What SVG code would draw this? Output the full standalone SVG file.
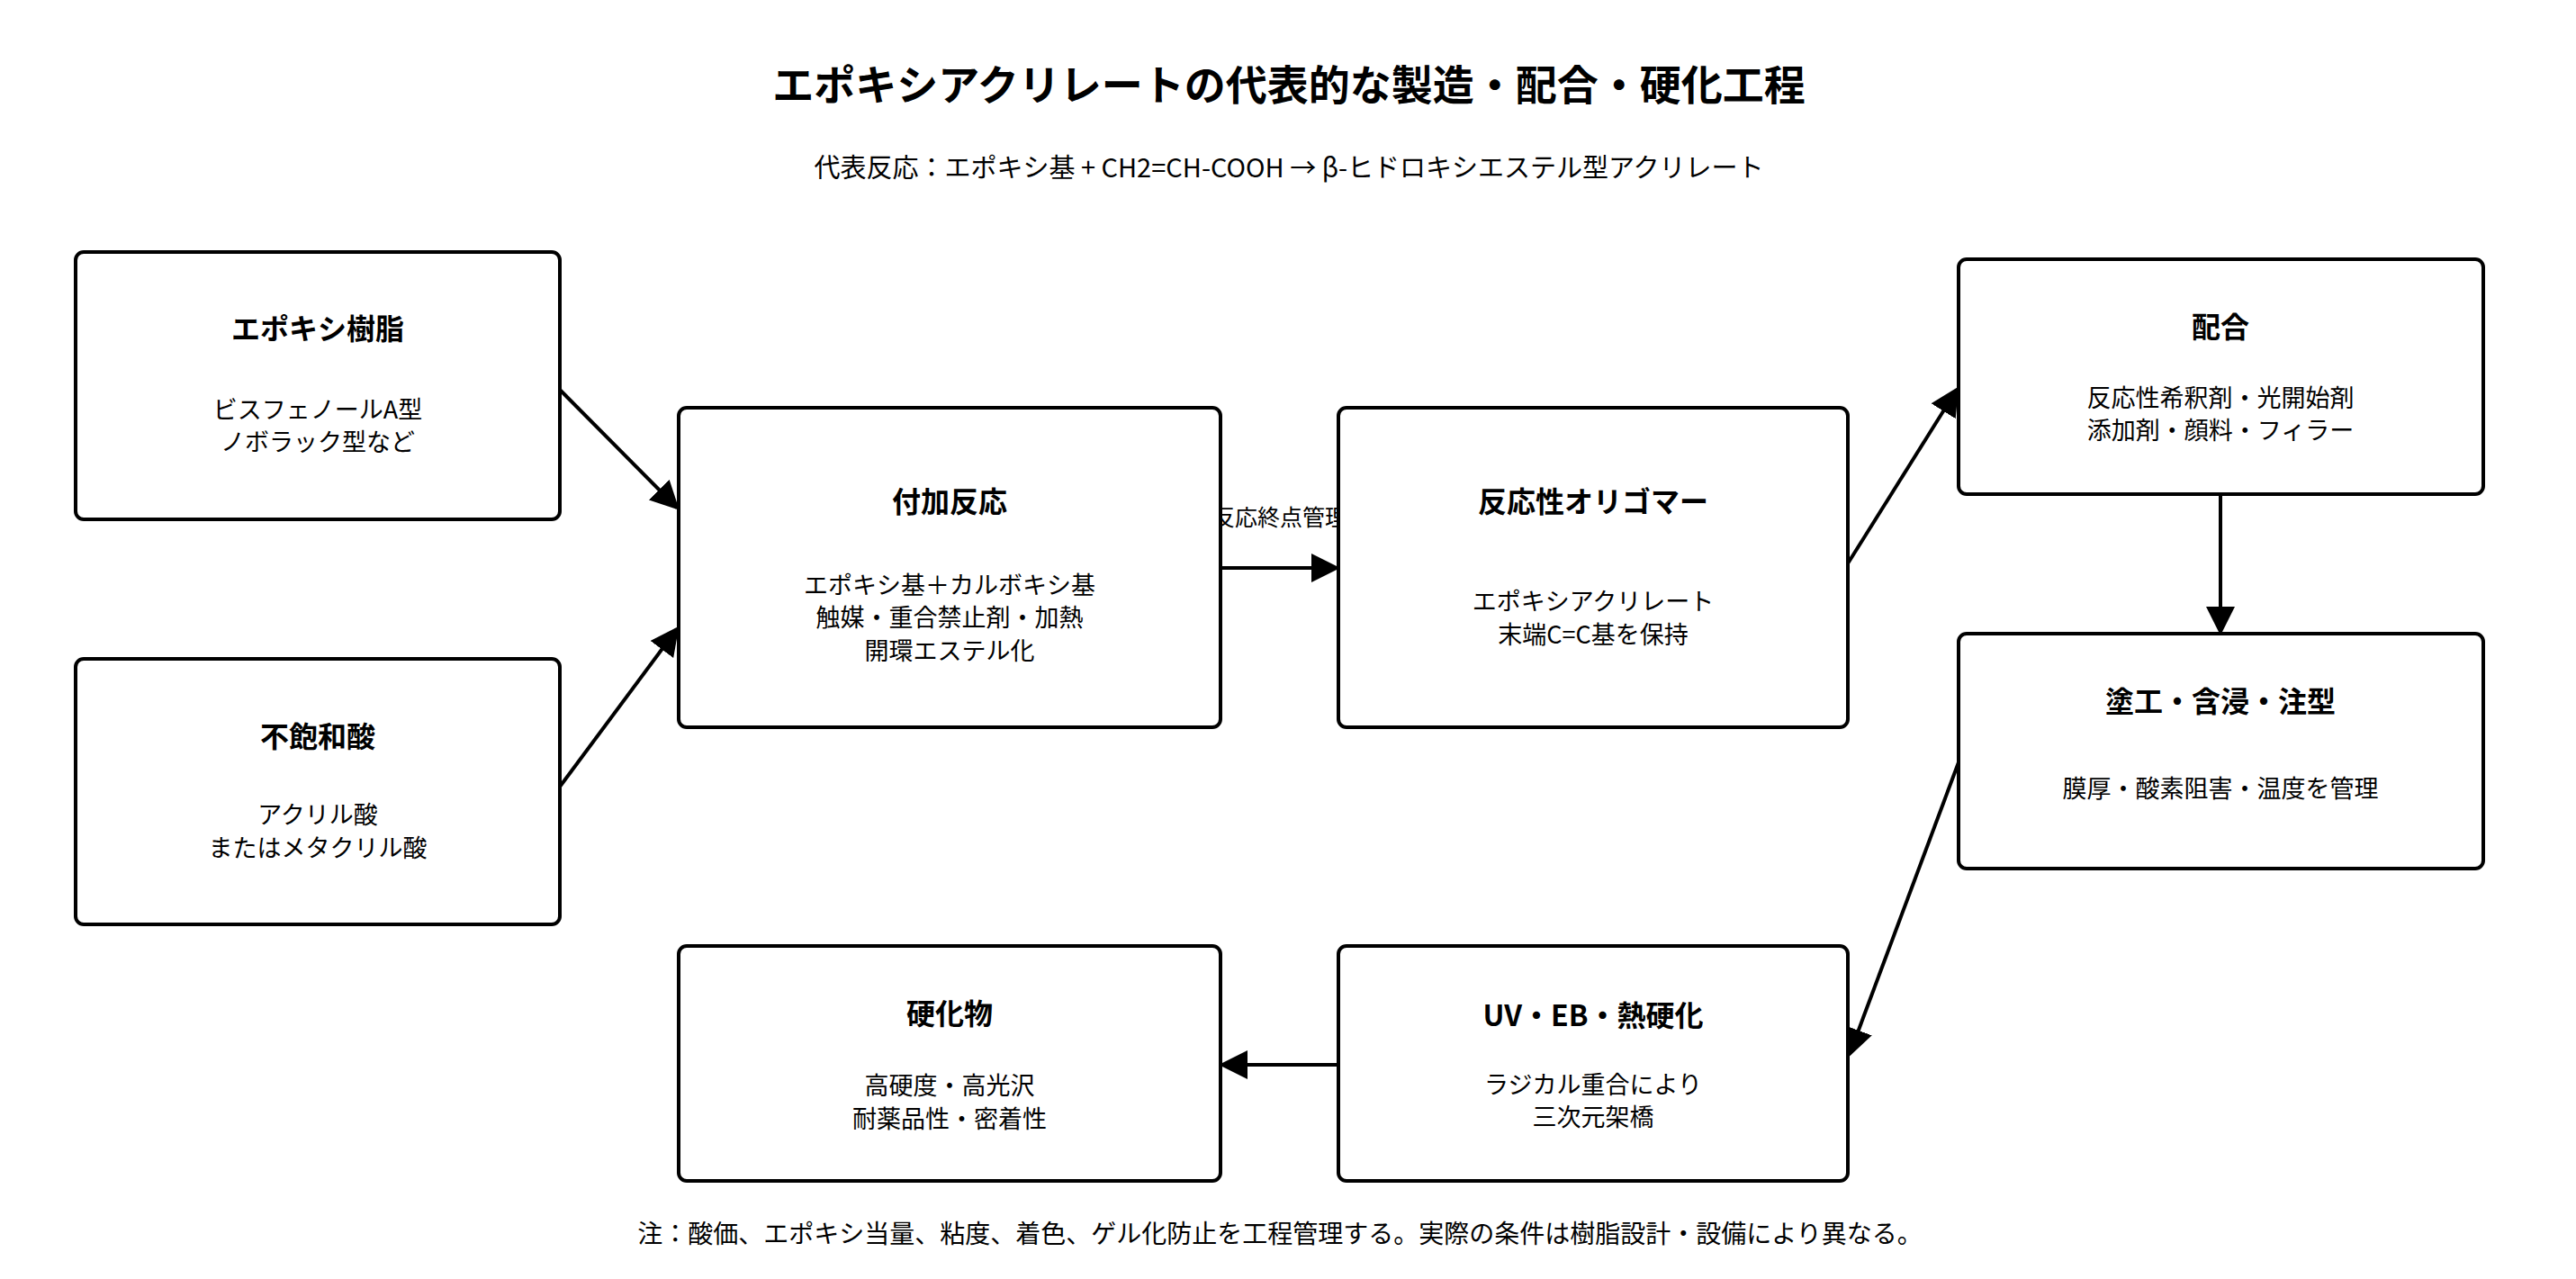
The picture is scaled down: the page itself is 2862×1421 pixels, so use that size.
<svg xmlns="http://www.w3.org/2000/svg" width="2862" height="1421" viewBox="0 0 2862 1421">
<style>
text{font-family:"Noto Sans CJK JP","Noto Sans",sans-serif;fill:#000;text-anchor:middle;dominant-baseline:central}
.box{fill:#fff;stroke:#000;stroke-width:4}
.t{font-size:32px;font-weight:bold}
.b{font-size:27px}
.c{stroke:#000;stroke-width:4;fill:none;marker-end:url(#ah)}
</style>
<defs><marker id="ah" markerWidth="8" markerHeight="8" refX="7" refY="4" orient="auto" markerUnits="strokeWidth"><path d="M0,0 L8,4 L0,8 Z" fill="#000"/></marker></defs>
<rect width="2862" height="1421" fill="#fff"/>
<text x="1432" y="91" style="font-size:46px;font-weight:bold">エポキシアクリレートの代表的な製造・配合・硬化工程</text>
<text x="1432" y="184" style="font-size:29px">代表反応：エポキシ基 + CH2=CH-COOH → β-ヒドロキシエステル型アクリレート</text>
<g id="connectors">
<line class="c" x1="622" y1="433" x2="752" y2="564"/>
<line class="c" x1="622" y1="874" x2="752" y2="699"/>
<line class="c" x1="1356" y1="631" x2="1485" y2="631"/>
<line class="c" x1="2053" y1="626" x2="2174" y2="433"/>
<line class="c" x1="2467" y1="549" x2="2467" y2="702"/>
<line class="c" x1="2179" y1="839" x2="2055" y2="1171"/>
<line class="c" x1="1487" y1="1183" x2="1358" y2="1183"/>
<text x="1422" y="573" style="font-size:25px">反応終点管理</text>
</g>
<g id="n1"><rect class="box" x="84" y="280" width="538" height="297" rx="9"/><text class="t" x="353" y="363">エポキシ樹脂</text><text class="b" x="353" y="453">ビスフェノールA型</text><text class="b" x="353" y="489">ノボラック型など</text></g>
<g id="n2"><rect class="box" x="84" y="732" width="538" height="295" rx="9"/><text class="t" x="353" y="816">不飽和酸</text><text class="b" x="353" y="903">アクリル酸</text><text class="b" x="353" y="940">またはメタクリル酸</text></g>
<g id="n3"><rect class="box" x="754" y="453" width="602" height="355" rx="9"/><text class="t" x="1055" y="555">付加反応</text><text class="b" x="1055" y="648">エポキシ基＋カルボキシ基</text><text class="b" x="1055" y="684">触媒・重合禁止剤・加熱</text><text class="b" x="1055" y="721">開環エステル化</text></g>
<g id="n4"><rect class="box" x="1487" y="453" width="566" height="355" rx="9"/><text class="t" x="1770" y="555">反応性オリゴマー</text><text class="b" x="1770" y="666">エポキシアクリレート</text><text class="b" x="1770" y="703">末端C=C基を保持</text></g>
<g id="n5"><rect class="box" x="2176" y="288" width="583" height="261" rx="9"/><text class="t" x="2467" y="361">配合</text><text class="b" x="2467" y="440">反応性希釈剤・光開始剤</text><text class="b" x="2467" y="476">添加剤・顔料・フィラー</text></g>
<g id="n6"><rect class="box" x="2176" y="704" width="583" height="261" rx="9"/><text class="t" x="2467" y="777">塗工・含浸・注型</text><text class="b" x="2467" y="874">膜厚・酸素阻害・温度を管理</text></g>
<g id="n7"><rect class="box" x="1487" y="1051" width="566" height="261" rx="9"/><text class="t" x="1770" y="1126">UV・EB・熱硬化</text><text class="b" x="1770" y="1203">ラジカル重合により</text><text class="b" x="1770" y="1239">三次元架橋</text></g>
<g id="n8"><rect class="box" x="754" y="1051" width="602" height="261" rx="9"/><text class="t" x="1055" y="1124">硬化物</text><text class="b" x="1055" y="1204">高硬度・高光沢</text><text class="b" x="1055" y="1241">耐薬品性・密着性</text></g>
<text x="1422" y="1369" style="font-size:28px">注：酸価、エポキシ当量、粘度、着色、ゲル化防止を工程管理する。実際の条件は樹脂設計・設備により異なる。</text>
</svg>
